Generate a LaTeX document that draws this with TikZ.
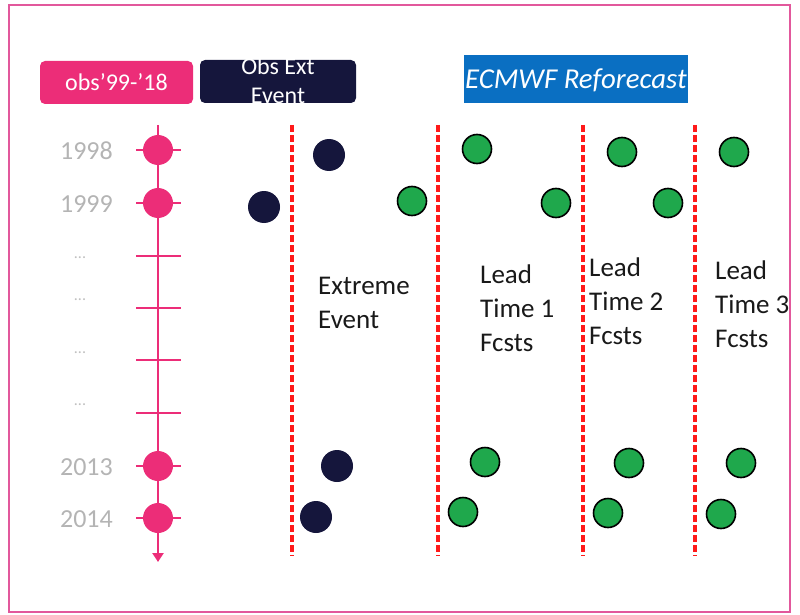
\documentclass[tikz,border=0pt]{standalone}
\usepackage{fontspec}
\setmainfont{Carlito}
\usetikzlibrary{arrows.meta}
\definecolor{framec}{HTML}{E2589C}
\definecolor{pinkc}{HTML}{EC2D78}
\definecolor{navyc}{HTML}{15163C}
\definecolor{bluec}{HTML}{0A6FC2}
\definecolor{greenc}{HTML}{1FA84C}
\definecolor{redc}{HTML}{FF1A1A}
\definecolor{yearc}{HTML}{B4B4B4}
\tikzset{
  labbox/.style={rounded corners=5pt, minimum width=153pt, minimum height=43pt, inner sep=0pt},
  pinkdot/.style={circle, fill=pinkc, minimum size=30pt, inner sep=0pt},
  navydot/.style={circle, fill=navyc, minimum size=32pt, inner sep=0pt},
  greendot/.style={circle, fill=greenc, draw=black, line width=1.6pt, minimum size=29pt, inner sep=0pt},
  tick/.style={draw=pinkc, line width=2.4pt},
  reddash/.style={draw=redc, line width=4pt, dash pattern=on 7pt off 3pt},
  year/.style={text=yearc, font=\fontsize{26}{30}\selectfont, anchor=east, inner sep=0pt},
  faint/.style={text=black!25, font=\fontsize{16}{20}\selectfont, inner sep=0pt},
  body/.style={font=\fontsize{27}{34}\selectfont, align=left, anchor=north west, inner sep=0pt, text=black!90}
}
\begin{document}
\begin{tikzpicture}[x=1pt,y=-1pt]
\useasboundingbox (0,0) rectangle (800,615);
\draw[framec, line width=2pt] (9,5) rectangle (790,612);

% header boxes
\node[labbox, fill=pinkc, text=white, font=\fontsize{24}{29}\selectfont] (obs) at (116.5,82.5) {obs’99-’18};
\node[labbox, fill=navyc, minimum width=156pt] (ext) at (278,81.5) {};
\node[text=white, font=\fontsize{24}{29}\selectfont, align=center, inner sep=0pt] (extT) at (278,81) {Obs Ext\\Event};
\node[fill=bluec, minimum width=224pt, minimum height=48pt, inner sep=0pt] (ecm) at (576,79) {};
\node[text=white, font=\fontsize{28.8}{32}\itshape, anchor=west, inner sep=0pt] (ecmT) at (465,80) {ECMWF Reforecast};

% timeline
\coordinate (ttop) at (158,125);
\coordinate (tbot) at (158,562);
\draw[pinkc, line width=2.4pt, -{Triangle[length=9pt,width=11pt]}] (ttop) -- (tbot);
\foreach \y in {150,203,256,308,360,413,466,518} {
  \draw[tick] (136,\y) -- (181,\y);
}
\node[pinkdot] (p98) at (158,150) {};
\node[pinkdot] (p99) at (158,203) {};
\node[pinkdot] (p13) at (158,466) {};
\node[pinkdot] (p14) at (158,518) {};

\node[year] (y98) at (113,151) {1998};
\node[year] (y99) at (113,204) {1999};
\node[year] (y13) at (113,467) {2013};
\node[year] (y14) at (113,519) {2014};
\node[faint] (d1) at (80,258) {...};
\node[faint] (d2) at (80,300) {...};
\node[faint] (d3) at (80,353) {...};
\node[faint] (d4) at (80,405) {...};

% dashed separators
\foreach \x/\n in {292/a,438/b,583/c,695/d} {
  \coordinate (s\n t) at (\x,125);
  \coordinate (s\n b) at (\x,556);
  \draw[reddash] (s\n t) -- (s\n b);
}

% observed extreme events
\node[navydot] (n1) at (329,155) {};
\node[navydot] (n2) at (264,207) {};
\node[navydot] (n3) at (337,466) {};
\node[navydot] (n4) at (316,517) {};

% forecasts
\node[greendot] (g1) at (477,149) {};
\node[greendot] (g2) at (412,201) {};
\node[greendot] (g3) at (556,203) {};
\node[greendot] (g4) at (622,152) {};
\node[greendot] (g5) at (668,203) {};
\node[greendot] (g6) at (734,152) {};
\node[greendot] (g7) at (485,462) {};
\node[greendot] (g8) at (463,512) {};
\node[greendot] (g9) at (629,463) {};
\node[greendot] (g10) at (608,513) {};
\node[greendot] (g11) at (741,463) {};
\node[greendot] (g12) at (721,514) {};

% column texts
\node[body] (tE) at (318,277) {Extreme\\Event};
\node[body] (t1) at (480,265) {Lead\\Time 1\\Fcsts};
\node[body] (t2) at (589,258) {Lead\\Time 2\\Fcsts};
\node[body] (t3) at (715,261) {Lead\\Time 3\\Fcsts};
\end{tikzpicture}
\end{document}
